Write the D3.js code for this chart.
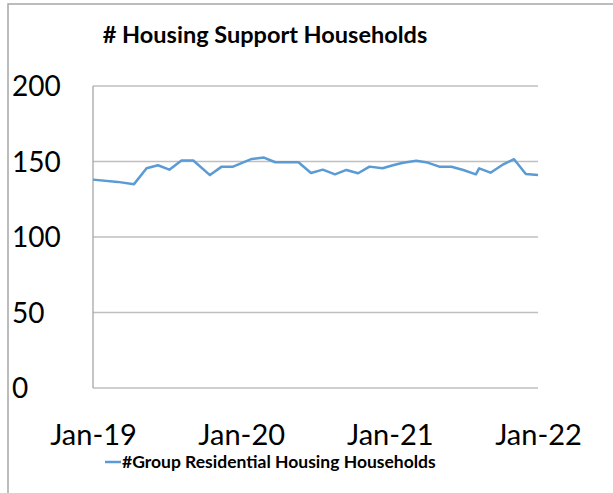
<!DOCTYPE html>
<html>
<head>
<meta charset="utf-8">
<script src="https://cdn.jsdelivr.net/npm/d3@7"></script>
<style>
  body { margin: 0; background: #fff; }
  svg { display: block; }
</style>
</head>
<body>
<div id="chart"></div>
<script>
// readings
const dates = [
  "2019-01-01", "2019-03-03", "2019-04-12", "2019-05-13", "2019-06-10",
  "2019-07-08", "2019-08-07", "2019-09-05", "2019-10-16", "2019-11-14",
  "2019-12-12", "2020-01-27", "2020-02-26", "2020-03-25", "2020-04-22",
  "2020-05-21", "2020-06-21", "2020-07-20", "2020-08-19", "2020-09-16",
  "2020-10-15", "2020-11-12", "2020-12-14", "2021-01-11", "2021-02-03",
  "2021-03-07", "2021-04-04", "2021-05-03", "2021-06-02", "2021-07-01",
  "2021-08-01", "2021-08-09", "2021-09-06", "2021-10-05", "2021-11-03",
  "2021-12-02", "2022-01-01"
];
const households = [
  138, 136.5, 135, 145.5, 147.5,
  144.6, 150.7, 150.7, 141, 146.6,
  146.6, 151.7, 152.6, 149.5, 149.5,
  149.5, 142.4, 144.6, 141.5, 144.4,
  142.2, 146.6, 145.5, 147.7, 149.2,
  150.5, 149.3, 146.6, 146.5, 144.4,
  141.5, 145.5, 142.6, 147.7, 151.5,
  141.7, 141
];
const yTicks = [0, 50, 100, 150, 200];
const xTickDates = ["2019-01-01", "2020-01-01", "2021-01-01", "2022-01-01"];
const xTickLabels = ["Jan-19", "Jan-20", "Jan-21", "Jan-22"];
const seriesName = "#Group Residential Housing Households";
const title = "# Housing Support Households";

const width = 613;
const height = 493;
const plot = { left: 93, right: 538, top: 86, bottom: 388 };
const font = "Lato, 'Open Sans', sans-serif";
const lineColor = "#5b9bd5";

const parseDate = d3.timeParse("%Y-%m-%d");
const points = dates.map((d, i) => ({ date: parseDate(d), value: households[i] }));

const svg = d3.select("#chart")
  .append("svg")
  .attr("width", width)
  .attr("height", height);

// outer frame (only top and left edges show)
svg.append("path")
  .attr("d", `M8,${height} V4 H${width}`)
  .attr("fill", "none")
  .attr("stroke", "#a6a6a6")
  .attr("stroke-width", 1.5);

const x = d3.scaleTime()
  .domain([parseDate(xTickDates[0]), parseDate(xTickDates[xTickDates.length - 1])])
  .range([plot.left, plot.right]);

const y = d3.scaleLinear()
  .domain([0, 200])
  .range([plot.bottom, plot.top]);

// gridlines
svg.append("g")
  .selectAll("line")
  .data(yTicks)
  .join("line")
  .attr("x1", plot.left)
  .attr("x2", plot.right)
  .attr("y1", d => y(d))
  .attr("y2", d => y(d))
  .attr("stroke", "#bfbfbf")
  .attr("stroke-width", 1.3);

svg.append("line")
  .attr("x1", plot.left)
  .attr("x2", plot.left)
  .attr("y1", y(200))
  .attr("y2", y(0))
  .attr("stroke", "#a6a6a6")
  .attr("stroke-width", 1.3);

// y labels sit left-aligned at the frame edge
svg.append("g")
  .selectAll("text")
  .data(yTicks)
  .join("text")
  .attr("x", 12)
  .attr("y", d => y(d))
  .attr("dy", "0.36em")
  .style("font-family", font)
  .style("font-size", "28px")
  .style("fill", "#000")
  .text(d => d);

// x axis labels
const xAxis = d3.axisBottom(x)
  .tickValues(xTickDates.map(parseDate))
  .tickFormat((d, i) => xTickLabels[i])
  .tickSize(0)
  .tickPadding(0);

svg.append("g")
  .attr("transform", `translate(0,${plot.bottom + 37})`)
  .call(xAxis)
  .call(g => g.select(".domain").remove())
  .selectAll("text")
  .attr("dy", "0.68em")
  .style("font-family", font)
  .style("font-size", "29px")
  .style("fill", "#000");

// the series
const line = d3.line()
  .x(d => x(d.date))
  .y(d => y(d.value));

svg.append("path")
  .datum(points)
  .attr("d", line)
  .attr("fill", "none")
  .attr("stroke", lineColor)
  .attr("stroke-width", 2.5)
  .attr("stroke-linejoin", "round");

// title
svg.append("text")
  .attr("x", 265)
  .attr("y", 43)
  .attr("text-anchor", "middle")
  .style("font-family", font)
  .style("font-size", "23.5px")
  .style("font-weight", "bold")
  .text(title);

// legend
svg.append("line")
  .attr("x1", 105)
  .attr("x2", 121)
  .attr("y1", 462)
  .attr("y2", 462)
  .attr("stroke", lineColor)
  .attr("stroke-width", 2.5);

svg.append("text")
  .attr("x", 122)
  .attr("y", 468)
  .style("font-family", font)
  .style("font-size", "17.5px")
  .style("font-weight", "bold")
  .text(seriesName);
</script>
</body>
</html>
